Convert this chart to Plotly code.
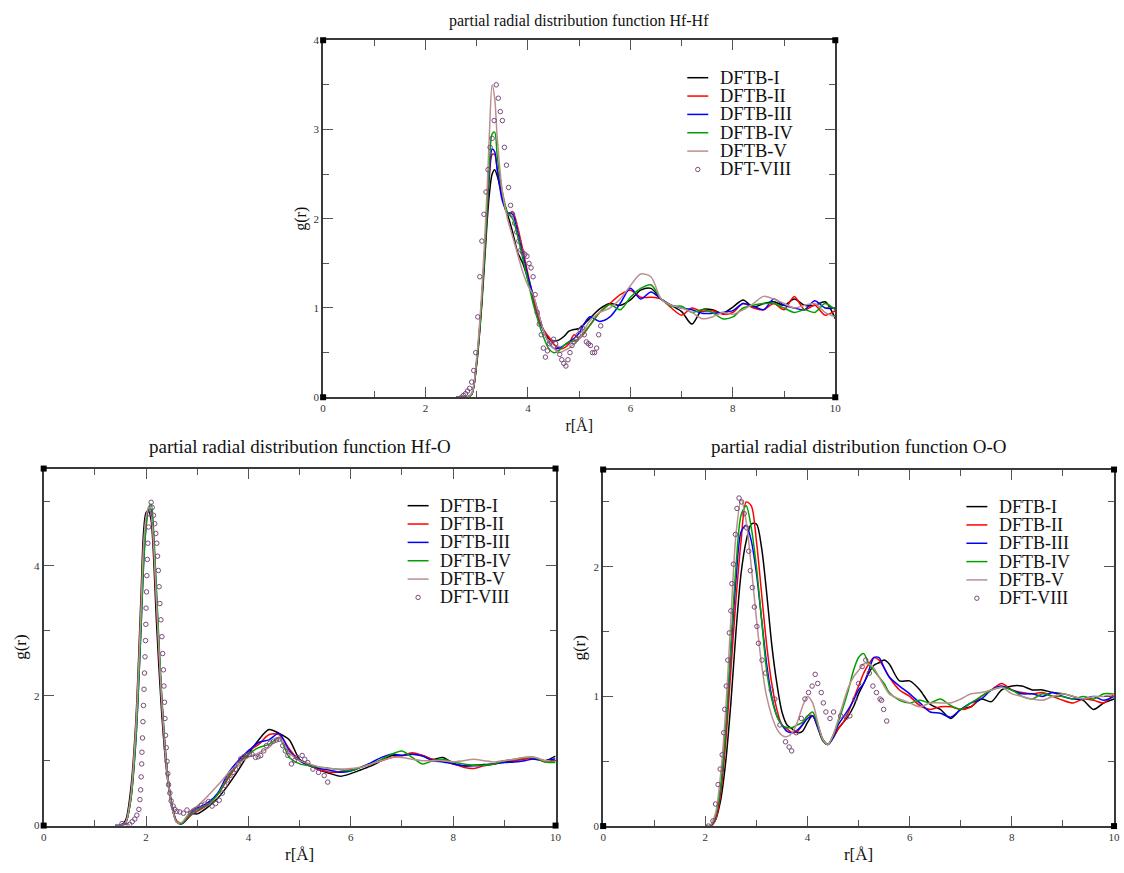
import plotly.graph_objects as go

# ---------------------------------------------------------------- data
SERIES = ["DFTB-I", "DFTB-II", "DFTB-III", "DFTB-IV", "DFTB-V"]
REF_NAME = "DFT-VIII"

# Hf-Hf
HFHF_R = [2.6, 2.7, 2.8, 2.9, 3.0, 3.1, 3.2, 3.25, 3.3, 3.35, 3.4, 3.5, 3.6, 3.7, 3.8,
          3.9, 4.0, 4.1, 4.2, 4.3, 4.4, 4.5, 4.6, 4.7, 4.8, 4.9, 5.0, 5.2, 5.4, 5.6,
          5.8, 6.0, 6.2, 6.4, 6.6, 6.8, 7.0, 7.2, 7.4, 7.6, 7.8, 8.0, 8.2, 8.4, 8.6,
          8.8, 9.0, 9.2, 9.4, 9.6, 9.8, 10.0]
HFHF_I = [0, 0, 0, 0.03, 0.38, 1.05, 1.95, 2.3, 2.5, 2.55, 2.48, 2.25, 2.05, 1.85, 1.62,
          1.5, 1.32, 1.1, 0.88, 0.75, 0.66, 0.63, 0.64, 0.68, 0.74, 0.76, 0.77, 0.88, 0.99, 1.05,
          1.03, 1.09, 1.2, 1.22, 1.1, 1.03, 0.96, 0.82, 0.98, 0.98, 0.94, 1.01, 1.09, 1.01, 1.05,
          1.07, 1.03, 1.1, 1.03, 1.03, 1.07, 0.88]
HFHF_II = [0, 0, 0, 0.03, 0.4, 1.1, 2.05, 2.5, 2.72, 2.72, 2.55, 2.25, 2.05, 2.08, 1.9,
           1.65, 1.38, 1.12, 0.9, 0.76, 0.68, 0.6, 0.55, 0.55, 0.6, 0.7, 0.66, 0.8, 0.95, 1.05,
           1.15, 1.2, 1.12, 1.12, 1.1, 1.0, 0.92, 1.0, 0.96, 0.97, 0.93, 0.95, 1.05, 1.0, 0.98,
           1.05, 0.98, 1.13, 0.98, 1.03, 0.92, 0.97]
HFHF_III = [0, 0, 0, 0.04, 0.42, 1.12, 2.1, 2.55, 2.78, 2.75, 2.55, 2.2, 2.07, 2.05, 1.85,
            1.6, 1.35, 1.15, 0.95, 0.75, 0.62, 0.55, 0.55, 0.58, 0.62, 0.66, 0.72, 0.9, 0.85, 0.9,
            1.05, 1.22, 1.1, 1.18, 1.1, 1.03, 1.0, 0.98, 0.94, 0.94, 0.95, 0.97, 1.05, 1.02, 0.98,
            1.1, 1.03, 1.0, 0.98, 1.08, 1.0, 1.0]
HFHF_IV = [0, 0, 0, 0.03, 0.4, 1.1, 2.1, 2.65, 2.95, 2.97, 2.7, 2.3, 2.07, 2.0, 1.8,
           1.55, 1.3, 1.05, 0.85, 0.68, 0.55, 0.5, 0.52, 0.58, 0.62, 0.63, 0.66, 0.8, 0.95, 1.04,
           0.98, 1.12, 1.22, 1.26, 1.1, 1.02, 1.02, 0.95, 0.98, 0.95, 0.88, 0.9, 1.0, 1.03, 1.05,
           1.05, 1.0, 0.95, 0.98, 0.95, 1.05, 0.98]
HFHF_V = [0, 0, 0, 0.04, 0.45, 1.2, 2.3, 3.0, 3.5, 3.35, 2.9, 2.3, 2.0, 1.8, 1.6,
          1.4, 1.25, 1.15, 0.95, 0.75, 0.62, 0.55, 0.5, 0.52, 0.55, 0.6, 0.65, 0.85, 0.95, 1.0,
          1.1, 1.25, 1.38, 1.35, 1.1, 1.03, 1.0, 0.95, 0.88, 0.9, 0.95, 0.93, 0.98, 1.05, 1.13,
          1.1, 1.05, 1.0, 1.03, 1.05, 0.95, 0.9]
HFHF_REF_R = [2.70, 2.74, 2.78, 2.82, 2.86, 2.90, 2.94, 2.98, 3.02, 3.06, 3.10, 3.14, 3.18,
              3.22, 3.26, 3.30, 3.34, 3.38, 3.42, 3.46, 3.50, 3.54, 3.58, 3.62, 3.66, 3.70,
              3.74, 3.78, 3.82, 3.86, 3.90, 3.94, 3.98, 4.02, 4.06, 4.10, 4.14, 4.18, 4.22,
              4.26, 4.30, 4.34, 4.38, 4.42, 4.46, 4.50, 4.54, 4.58, 4.62, 4.66, 4.70, 4.74,
              4.78, 4.82, 4.86, 4.90, 4.94, 4.98, 5.02, 5.06, 5.10, 5.14, 5.18, 5.22, 5.26,
              5.30, 5.34, 5.38, 5.42]
HFHF_REF = [0.0, 0.02, 0.04, 0.07, 0.1, 0.17, 0.3, 0.5, 0.9, 1.35, 1.75, 2.05, 2.3,
            2.55, 2.8, 2.9, 3.1, 3.5, 3.35, 3.2, 3.1, 2.8, 2.6, 2.35, 2.15, 2.05,
            1.95, 1.85, 1.75, 1.65, 1.62, 1.6, 1.58, 1.5, 1.45, 1.35, 1.15, 0.95, 0.82,
            0.7, 0.55, 0.45, 0.52, 0.6, 0.62, 0.65, 0.6, 0.55, 0.48, 0.42, 0.38, 0.35,
            0.42, 0.5, 0.58, 0.62, 0.65, 0.7, 0.75, 0.78, 0.7, 0.62, 0.6, 0.58, 0.5,
            0.5, 0.55, 0.7, 0.8]

# Hf-O
HFO_R = [1.4, 1.5, 1.6, 1.7, 1.8, 1.9, 1.95, 2.0, 2.05, 2.1, 2.15, 2.2, 2.3, 2.4, 2.5,
         2.6, 2.7, 2.8, 2.9, 3.0, 3.2, 3.4, 3.6, 3.8, 4.0, 4.2, 4.4, 4.6, 4.8, 5.0,
         5.2, 5.4, 5.6, 5.8, 6.0, 6.2, 6.4, 6.6, 6.8, 7.0, 7.2, 7.4, 7.6, 7.8, 8.0,
         8.2, 8.4, 8.6, 8.8, 9.0, 9.2, 9.4, 9.6, 9.8, 10.0]
HFO_I = [0, 0, 0.08, 0.55, 1.6, 3.5, 4.5, 4.82, 4.85, 4.7, 4.1, 3.2, 1.8, 0.85, 0.3,
         0.06, 0.03, 0.1, 0.18, 0.18, 0.28, 0.42, 0.62, 0.85, 1.1, 1.32, 1.48, 1.42, 1.32, 1.02,
         0.93, 0.85, 0.8, 0.76, 0.8, 0.86, 0.92, 1.0, 1.08, 1.08, 1.1, 1.08, 1.02, 1.05, 0.96,
         0.92, 0.93, 0.94, 0.95, 0.98, 1.0, 1.04, 1.02, 1.0, 1.07]
HFO_II = [0, 0, 0.04, 0.4, 1.4, 3.2, 4.2, 4.7, 4.88, 4.8, 4.3, 3.5, 2.0, 0.95, 0.35,
          0.07, 0.04, 0.1, 0.18, 0.22, 0.32, 0.48, 0.72, 0.95, 1.15, 1.25, 1.4, 1.4, 1.18, 1.0,
          0.92, 0.86, 0.82, 0.83, 0.86, 0.9, 0.95, 1.0, 1.05, 1.08, 1.12, 1.08, 1.02, 1.0, 0.95,
          0.9, 0.88, 0.92, 0.95, 1.0, 1.0, 1.02, 1.04, 0.98, 1.0]
HFO_III = [0, 0.01, 0.05, 0.4, 1.3, 3.0, 4.0, 4.6, 4.88, 4.85, 4.4, 3.6, 2.05, 0.95, 0.33,
           0.05, 0.03, 0.12, 0.22, 0.27, 0.35, 0.5, 0.8, 1.0, 1.15, 1.28, 1.32, 1.42, 1.15, 1.0,
           0.92, 0.88, 0.85, 0.82, 0.84, 0.9, 0.97, 1.05, 1.1, 1.08, 1.1, 1.07, 1.0, 0.98, 0.95,
           0.92, 0.92, 0.93, 0.95, 0.97, 0.98, 1.0, 1.03, 1.0, 1.03]
HFO_IV = [0, 0, 0.04, 0.38, 1.3, 3.0, 4.0, 4.6, 4.9, 4.95, 4.5, 3.7, 2.1, 0.95, 0.33,
          0.05, 0.03, 0.12, 0.2, 0.25, 0.32, 0.48, 0.75, 0.95, 1.1, 1.2, 1.25, 1.35, 1.05, 0.95,
          0.92, 0.9, 0.88, 0.86, 0.85, 0.9, 0.95, 1.02, 1.1, 1.15, 1.05, 0.95, 1.0, 1.02, 0.98,
          0.95, 0.93, 0.93, 0.95, 1.0, 1.02, 1.05, 1.05, 0.98, 0.97]
HFO_V = [0, 0, 0.05, 0.45, 1.5, 3.3, 4.3, 4.75, 4.9, 4.8, 4.3, 3.5, 2.0, 0.9, 0.3,
         0.05, 0.05, 0.15, 0.25, 0.3, 0.45, 0.62, 0.8, 0.95, 1.05, 1.12, 1.2, 1.35, 1.12, 1.0,
         0.95, 0.9, 0.88, 0.87, 0.88, 0.9, 0.95, 1.0, 1.05, 1.05, 1.02, 1.0, 1.0, 1.0, 0.98,
         1.0, 1.02, 1.0, 0.98, 1.0, 1.02, 1.05, 1.05, 1.0, 1.0]
HFO_REF_R = [1.53, 1.58, 1.63, 1.68, 1.73, 1.78, 1.82, 1.86, 1.88, 1.895, 1.905, 1.915,
             1.92, 1.93, 1.94, 1.95, 1.96, 1.97, 1.98, 1.99, 1.995, 2.0, 2.01, 2.015,
             2.025, 2.035, 2.05, 2.07, 2.10, 2.12, 2.145, 2.17, 2.19, 2.21, 2.225, 2.24,
             2.255, 2.27, 2.29, 2.31, 2.325, 2.34, 2.35, 2.36, 2.37, 2.38, 2.395, 2.41,
             2.425, 2.44, 2.465, 2.49, 2.53, 2.56, 2.60, 2.66, 2.73, 2.80, 2.87, 2.92,
             2.97, 3.03, 3.08, 3.15, 3.22, 3.29, 3.36, 3.43, 3.49, 3.54, 3.59, 3.64,
             3.70, 3.75, 3.80, 3.85, 3.91, 3.96, 4.02, 4.07, 4.14, 4.19, 4.24, 4.30,
             4.35, 4.42, 4.49, 4.55, 4.60, 4.67, 4.72, 4.77, 4.84, 4.90, 4.95, 5.05,
             5.10, 5.16, 5.26, 5.37, 5.48, 5.55]
HFO_REF = [0.03, 0.0, 0.0, 0.02, 0.06, 0.1, 0.16, 0.25, 0.4, 0.55, 0.75, 0.95,
           1.13, 1.35, 1.6, 1.85, 2.1, 2.35, 2.6, 2.85, 3.1, 3.35, 3.6, 3.85,
           4.1, 4.35, 4.6, 4.8, 4.98, 4.9, 4.78, 4.65, 4.5, 4.35, 4.15, 3.93,
           3.68, 3.42, 3.17, 2.91, 2.65, 2.4, 2.15, 1.9, 1.65, 1.39, 1.2, 0.99,
           0.8, 0.63, 0.5, 0.38, 0.3, 0.25, 0.22, 0.21, 0.19, 0.24, 0.19, 0.22,
           0.24, 0.27, 0.31, 0.33, 0.37, 0.3, 0.34, 0.39, 0.5, 0.62, 0.7, 0.77,
           0.82, 0.87, 0.95, 1.03, 1.06, 1.08, 1.1, 1.1, 1.05, 1.06, 1.08, 1.15,
           1.23, 1.27, 1.3, 1.32, 1.33, 1.23, 1.15, 1.08, 0.95, 1.0, 1.05, 1.08,
           1.02, 0.97, 0.87, 0.82, 0.77, 0.67]

# O-O
OO_R = [2.0, 2.1, 2.2, 2.3, 2.4, 2.5, 2.6, 2.7, 2.8, 2.9, 3.0, 3.1, 3.2, 3.3, 3.4,
        3.5, 3.6, 3.7, 3.8, 3.9, 4.0, 4.1, 4.2, 4.3, 4.4, 4.5, 4.6, 4.7, 4.8, 4.9,
        5.0, 5.1, 5.2, 5.3, 5.4, 5.5, 5.6, 5.8, 6.0, 6.2, 6.4, 6.6, 6.8, 7.0, 7.2,
        7.4, 7.6, 7.8, 8.0, 8.2, 8.4, 8.6, 8.8, 9.0, 9.2, 9.4, 9.6, 9.8, 10.0]
OO_I = [0, 0, 0.05, 0.2, 0.5, 0.95, 1.5, 1.95, 2.2, 2.33, 2.33, 2.15, 1.8, 1.4, 1.1,
        0.88, 0.78, 0.75, 0.72, 0.73, 0.8, 0.85, 0.78, 0.67, 0.63, 0.68, 0.75, 0.8, 0.85, 0.92,
        1.02, 1.1, 1.18, 1.24, 1.26, 1.28, 1.25, 1.12, 1.12, 1.05, 0.94, 0.9, 0.83, 0.9, 0.92,
        0.98, 0.96, 1.05, 1.08, 1.08, 1.05, 1.05, 1.03, 1.02, 1.0, 0.97, 0.9, 0.95, 0.98]
OO_II = [0, 0, 0.05, 0.25, 0.65, 1.2, 1.75, 2.2, 2.5, 2.47, 2.2, 1.8, 1.4, 1.1, 0.9,
         0.78, 0.75, 0.72, 0.73, 0.78, 0.85, 0.85, 0.76, 0.66, 0.63, 0.68, 0.75, 0.8, 0.88, 0.98,
         1.08, 1.18, 1.25, 1.3, 1.28, 1.22, 1.15, 1.05, 1.0, 0.93, 0.9, 0.92, 0.92, 0.9, 0.92,
         1.0, 1.05, 1.1, 1.05, 1.03, 1.02, 1.03, 1.0, 0.97, 0.95, 0.98, 0.97, 0.95, 1.02]
OO_III = [0, 0, 0.08, 0.3, 0.75, 1.35, 1.9, 2.27, 2.32, 2.2, 1.95, 1.6, 1.25, 1.0, 0.85,
          0.78, 0.73, 0.72, 0.74, 0.78, 0.83, 0.85, 0.76, 0.66, 0.63, 0.68, 0.78, 0.84, 0.9, 0.97,
          1.05, 1.1, 1.2, 1.3, 1.3, 1.22, 1.15, 1.08, 1.02, 0.95, 0.88, 0.87, 0.84, 0.9, 0.95,
          0.98, 1.05, 1.08, 1.05, 1.02, 1.02, 1.0, 1.03, 1.0, 0.98, 0.98, 1.0, 0.97, 1.0]
OO_IV = [0, 0, 0.08, 0.3, 0.75, 1.4, 2.0, 2.4, 2.47, 2.3, 2.0, 1.6, 1.2, 0.98, 0.85,
         0.78, 0.76, 0.76, 0.78, 0.8, 0.85, 0.88, 0.78, 0.66, 0.63, 0.7, 0.8, 0.92, 1.05, 1.2,
         1.3, 1.33, 1.25, 1.2, 1.15, 1.1, 1.03, 0.97, 0.95, 0.97, 0.95, 0.98, 0.93, 0.9, 0.95,
         1.0, 1.05, 1.07, 1.05, 1.0, 0.98, 1.02, 1.0, 1.0, 0.98, 1.0, 0.98, 1.02, 1.02]
OO_V = [0, 0.01, 0.1, 0.4, 0.9, 1.6, 2.25, 2.52, 2.35, 2.0, 1.6, 1.25, 1.0, 0.85, 0.75,
        0.7, 0.69, 0.72, 0.8, 0.92, 1.0, 0.95, 0.8, 0.67, 0.63, 0.7, 0.82, 0.95, 1.07, 1.15,
        1.2, 1.25, 1.25, 1.22, 1.15, 1.08, 1.02, 0.98, 0.95, 0.92, 0.95, 0.95, 0.95, 0.98, 1.02,
        1.03, 1.05, 1.07, 1.02, 1.0, 0.98, 0.97, 1.0, 1.02, 1.0, 0.98, 1.0, 1.0, 1.02]
OO_REF_R = [2.06, 2.15, 2.20, 2.25, 2.29, 2.33, 2.36, 2.38, 2.41, 2.44, 2.47, 2.50, 2.52,
            2.55, 2.59, 2.62, 2.66, 2.71, 2.76, 2.81, 2.85, 2.88, 2.92, 2.96, 3.01, 3.04,
            3.11, 3.18, 3.29, 3.36, 3.46, 3.57, 3.64, 3.69, 3.78, 3.88, 3.95, 4.02, 4.09,
            4.15, 4.20, 4.27, 4.31, 4.36, 4.44, 4.51, 4.65, 4.76, 4.83, 4.93, 5.00, 5.07,
            5.14, 5.21, 5.28, 5.35, 5.42, 5.45, 5.49, 5.55]
OO_REF = [0.0, 0.04, 0.17, 0.32, 0.44, 0.55, 0.72, 0.9, 1.08, 1.28, 1.49, 1.66, 1.87,
          2.02, 2.25, 2.45, 2.53, 2.5, 2.41, 2.3, 2.12, 1.97, 1.84, 1.69, 1.54, 1.41,
          1.28, 1.18, 1.05, 0.98, 0.78, 0.65, 0.61, 0.58, 0.72, 0.83, 0.98, 1.03, 1.08,
          1.17, 1.1, 1.03, 0.95, 0.88, 0.83, 0.88, 0.85, 0.84, 0.85, 0.98, 1.1, 1.23,
          1.28, 1.18, 1.08, 1.03, 0.98, 0.97, 0.9, 0.81]

# ---------------------------------------------------------------- styling
W, H = 1124, 873
FONT = "Liberation Serif"
LINE_COLORS = ["#000000", "#ff0000", "#0000ff", "#00a000", "#bc8f8f"]
REF_COLOR = "#7a4a7a"
AXIS_COLOR = "#3a3a3a"


def dom_x(left, right):
    return [left / W, right / W]


def dom_y(top, bottom):
    return [1 - bottom / H, 1 - top / H]


# plot boxes in pixels: (left, right, top, bottom)
BOXES = [(322.7, 839.0, 34.7, 396.7),
         (41.0, 557.0, 469.0, 831.0),
         (605.0, 1120.0, 470.0, 831.5)]

PANELS = [
    dict(title="partial radial distribution function Hf-Hf", r=HFHF_R,
         curves=[HFHF_I, HFHF_II, HFHF_III, HFHF_IV, HFHF_V],
         ref_r=HFHF_REF_R, ref=HFHF_REF, yrange=[0, 4], ydtick=1, yminor=0.5,
         title_size=16, title_y=15, label_size=11, axtitle_size=16, legend_size=18.5,
         leg_top=0.895, leg_step=0.0514),
    dict(title="partial radial distribution function Hf-O", r=HFO_R,
         curves=[HFO_I, HFO_II, HFO_III, HFO_IV, HFO_V],
         ref_r=HFO_REF_R, ref=HFO_REF, yrange=[0, 5.5], ydtick=2, yminor=1,
         title_size=19, title_y=447, label_size=11, axtitle_size=17, legend_size=18,
         leg_top=0.896, leg_step=0.0514),
    dict(title="partial radial distribution function O-O", r=OO_R,
         curves=[OO_I, OO_II, OO_III, OO_IV, OO_V],
         ref_r=OO_REF_R, ref=OO_REF, yrange=[0, 2.75], ydtick=1, yminor=0.5,
         title_size=19, title_y=447, label_size=11, axtitle_size=17, legend_size=18,
         leg_top=0.896, leg_step=0.0514),
]

fig = go.Figure()
annotations = []
shapes = []
layout_axes = {}

for k, (panel, box) in enumerate(zip(PANELS, BOXES), start=1):
    sfx = "" if k == 1 else str(k)
    xref, yref = "x" + sfx, "y" + sfx
    left, right, top, bottom = box

    for name, vals, color in zip(SERIES, panel["curves"], LINE_COLORS):
        fig.add_trace(go.Scatter(
            x=panel["r"], y=vals, mode="lines", name=name, showlegend=False,
            line=dict(color=color, width=1.5, shape="spline", smoothing=0.8),
            xaxis=xref, yaxis=yref))
    fig.add_trace(go.Scatter(
        x=panel["ref_r"], y=panel["ref"], mode="markers", name=REF_NAME, showlegend=False,
        marker=dict(symbol="circle-open", size=4.5, color=REF_COLOR, line=dict(width=1)),
        xaxis=xref, yaxis=yref))

    common = dict(showline=True, linecolor=AXIS_COLOR, linewidth=2, mirror="ticks",
                  ticks="inside", ticklen=10, tickwidth=1.2, tickcolor="#555555",
                  showgrid=False, zeroline=False,
                  tickfont=dict(family=FONT, size=panel["label_size"], color="#333333"))
    layout_axes["xaxis" + sfx] = dict(
        common, domain=dom_x(left, right), range=[0, 10], dtick=2, tick0=0,
        anchor=yref,
        minor=dict(ticks="inside", ticklen=6, tickcolor="#555555", tickwidth=1, dtick=1),
        title=dict(text="r[Å]", standoff=6,
                   font=dict(family=FONT, size=panel["axtitle_size"], color="#111111")))
    layout_axes["yaxis" + sfx] = dict(
        common, domain=dom_y(top, bottom), range=panel["yrange"], dtick=panel["ydtick"],
        tick0=0, anchor=xref,
        minor=dict(ticks="inside", ticklen=6, tickcolor="#555555", tickwidth=1,
                   dtick=panel["yminor"]),
        title=dict(text="g(r)", standoff=3,
                   font=dict(family=FONT, size=panel["axtitle_size"], color="#111111")))

    # panel title
    annotations.append(dict(
        text=panel["title"], x=(left + right) / 2 / W, y=1 - panel["title_y"] / H,
        xref="paper", yref="paper", xanchor="center", yanchor="middle", showarrow=False,
        font=dict(family=FONT, size=panel["title_size"], color="#111111")))

    # frame corner markers
    for cx in (0, 1):
        for cy in (0, 1):
            shapes.append(dict(
                type="rect", xref=xref + " domain", yref=yref + " domain",
                xsizemode="pixel", ysizemode="pixel", xanchor=cx, yanchor=cy,
                x0=-3, x1=3, y0=-3, y1=3, fillcolor="#000000", line=dict(width=0)))

    # legend box
    entries = list(zip(SERIES, LINE_COLORS)) + [(REF_NAME, None)]
    for i, (name, color) in enumerate(entries):
        yy = panel["leg_top"] - i * panel["leg_step"]
        if color is not None:
            shapes.append(dict(
                type="line", xref=xref + " domain", yref=yref + " domain",
                x0=0.711, x1=0.752, y0=yy, y1=yy, line=dict(color=color, width=1.5)))
        else:
            shapes.append(dict(
                type="circle", xref=xref + " domain", yref=yref + " domain",
                xsizemode="pixel", ysizemode="pixel", xanchor=0.7315, yanchor=yy,
                x0=-2.2, x1=2.2, y0=-2.2, y1=2.2,
                line=dict(color=REF_COLOR, width=1)))
        annotations.append(dict(
            text=name, x=0.771, y=yy, xref=xref + " domain", yref=yref + " domain",
            xanchor="left", yanchor="middle", showarrow=False,
            font=dict(family=FONT, size=panel["legend_size"], color="#111111")))

fig.update_layout(
    width=W, height=H, margin=dict(l=0, r=0, t=0, b=0),
    paper_bgcolor="white", plot_bgcolor="white",
    showlegend=False, annotations=annotations, shapes=shapes,
    **layout_axes)

fig.write_html("out.html")
